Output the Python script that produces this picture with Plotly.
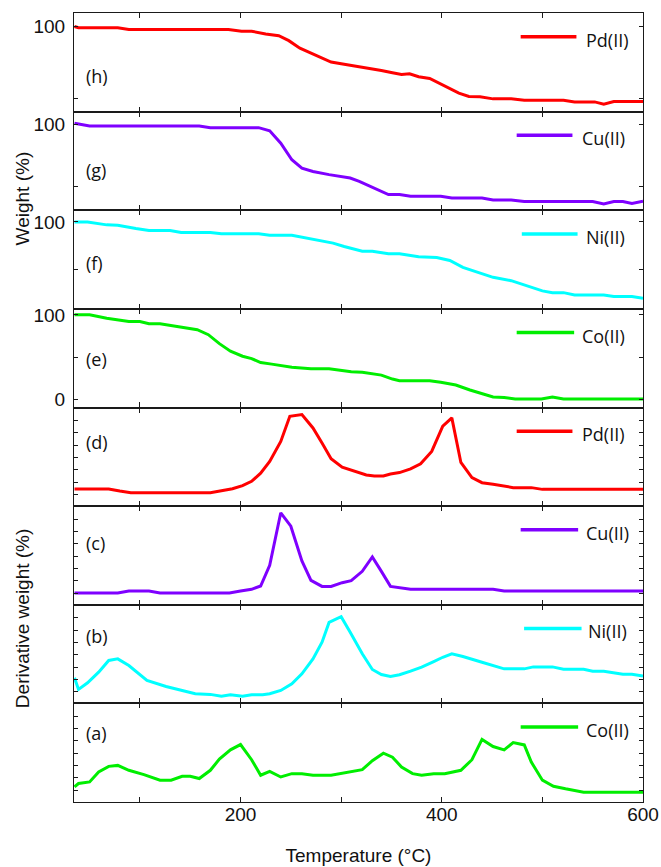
import plotly.graph_objects as go

# ---------------- TGA curves: weight (%) vs temperature (°C) ----------------
temp_pd_tga = [35, 39, 78, 89, 188, 201, 211, 225, 238, 248, 259, 270, 281, 290, 303, 314, 325, 340, 351, 360,
               368, 377, 388, 395, 406, 417, 427, 438, 451, 469, 482, 521, 532, 552, 561, 571, 600]
weight_pd = [100, 99.1, 99.1, 97.9, 97.9, 96.7, 96.7, 94.8, 93.6, 90.1, 84.9, 81.4, 77.6, 75.2, 73.6, 72.4, 70.8,
             69.3, 67.7, 66.5, 67.0, 64.9, 63.7, 61.3, 57.1, 53.5, 51.2, 51.0, 49.5, 49.5, 48.6, 48.6, 47.4, 47.4,
             45.8, 47.7, 47.7]

temp_cu_tga = [35, 50, 159, 170, 218, 229, 240, 251, 261, 272, 288, 309, 318, 333, 347, 358, 369, 399, 410, 440,
               451, 469, 482, 550, 561, 571, 580, 589, 600]
weight_cu = [100.8, 98.7, 98.7, 97.3, 97.3, 94.7, 84.8, 71.4, 64.7, 62.0, 59.4, 56.7, 54.0, 48.7, 43.3, 43.3, 42.0,
             42.0, 40.6, 40.6, 39.0, 39.0, 37.7, 37.7, 35.8, 37.7, 37.7, 36.1, 37.9]

temp_ni_tga = [35, 48, 67, 78, 96, 109, 130, 141, 170, 181, 218, 229, 251, 266, 281, 292, 303, 312, 321, 331, 347,
               358, 377, 395, 408, 421, 436, 451, 469, 480, 491, 500, 510, 521, 532, 561, 571, 589, 600]
weight_ni = [100, 100, 96.9, 96.5, 93.1, 91.0, 91.0, 88.9, 88.9, 87.5, 87.5, 86.1, 86.1, 83.3, 80.2, 77.8, 74.3,
             72.2, 69.4, 69.4, 66.7, 66.7, 63.5, 62.8, 59.7, 52.4, 47.2, 42.0, 38.5, 34.7, 30.6, 27.8, 26.0, 26.0,
             23.6, 23.6, 21.9, 21.9, 20.1]

temp_co_tga = [35, 50, 67, 78, 89, 100, 109, 120, 131, 144, 157, 168, 179, 190, 202, 211, 220, 231, 251, 270, 288,
               310, 321, 340, 351, 358, 388, 399, 414, 428, 440, 451, 462, 473, 499, 510, 521, 600]
weight_co = [100, 100, 96.1, 94.1, 92.2, 92.2, 89.4, 89.4, 87.4, 84.7, 82.4, 76.5, 65.9, 56.9, 51.0, 48.2, 43.5,
             41.6, 38.0, 36.1, 36.1, 32.5, 32.1, 28.6, 23.9, 22.0, 22.0, 20.0, 16.9, 11.0, 6.7, 2.7, 2.0, 0.4, 0.4,
             2.7, 0.4, 0.4]

# ---------------- DTG curves: derivative weight (arbitrary units) ----------------
temp_pd_dtg = [35, 69, 80, 91, 170, 181, 192, 202, 211, 220, 229, 240, 249, 261, 272, 281, 290, 301, 314, 325, 333,
               342, 349, 358, 369, 379, 390, 401, 410, 419, 430, 440, 451, 471, 489, 500, 600]
deriv_pd = [1.39, 1.39, 1.22, 1.09, 1.09, 1.22, 1.41, 1.66, 2.01, 2.67, 3.62, 5.25, 7.29, 7.43, 6.34, 5.12, 3.84,
            3.16, 2.80, 2.53, 2.45, 2.45, 2.61, 2.72, 3.02, 3.43, 4.44, 6.48, 7.16, 3.54, 2.31, 1.90, 1.77, 1.50,
            1.50, 1.36, 1.36]

temp_cu_dtg = [35, 78, 89, 109, 120, 189, 200, 211, 220, 229, 240, 250, 261, 270, 281, 290, 301, 310, 321, 331, 340,
               349, 369, 451, 462, 600]
deriv_cu = [0.95, 0.95, 1.11, 1.11, 0.95, 0.95, 1.11, 1.25, 1.52, 3.20, 7.46, 6.37, 3.55, 1.98, 1.49, 1.49, 1.79,
            1.95, 2.71, 3.88, 2.71, 1.49, 1.25, 1.25, 1.11, 1.11]

temp_ni_dtg = [35, 39, 48, 59, 69, 78, 89, 107, 126, 141, 155, 170, 181, 190, 202, 211, 222, 229, 240, 251, 261,
               272, 281, 288, 300, 309, 321, 331, 340, 349, 358, 369, 380, 392, 401, 410, 421, 440, 462, 482, 491,
               510, 521, 541, 550, 561, 580, 589, 600]
deriv_ni = [2.07, 1.13, 1.67, 2.53, 3.48, 3.61, 3.07, 1.86, 1.37, 1.05, 0.78, 0.73, 0.57, 0.70, 0.57, 0.70, 0.70,
            0.78, 1.05, 1.59, 2.40, 3.61, 4.96, 6.57, 7.03, 5.77, 4.02, 2.75, 2.34, 2.18, 2.32, 2.61, 2.94, 3.39,
            3.74, 4.02, 3.80, 3.34, 2.80, 2.80, 2.96, 2.96, 2.77, 2.77, 2.61, 2.61, 2.37, 2.37, 2.21]

temp_co_dtg = [35, 39, 50, 59, 69, 78, 89, 104, 120, 131, 142, 150, 159, 170, 179, 190, 200, 211, 220, 229, 240,
               251, 261, 272, 290, 310, 321, 331, 342, 351, 360, 371, 380, 392, 403, 419, 430, 440, 451, 462, 471,
               482, 489, 500, 511, 523, 541, 600]
deriv_co = [1.23, 1.50, 1.63, 2.44, 2.89, 2.97, 2.57, 2.22, 1.77, 1.77, 2.09, 2.09, 1.90, 2.57, 3.48, 4.23, 4.66,
            3.43, 2.17, 2.49, 2.03, 2.30, 2.30, 2.17, 2.17, 2.49, 2.62, 3.35, 3.96, 3.64, 2.84, 2.30, 2.17, 2.30,
            2.30, 2.57, 3.43, 5.08, 4.50, 4.23, 4.82, 4.63, 3.24, 1.77, 1.28, 1.07, 0.80, 0.80]

x_tick_vals = [100, 200, 300, 400, 500, 600]
x_tick_text = ["", "200", "", "400", "", "600"]

RED = "#FF0000"
PURPLE = "#7F00FF"
CYAN = "#00FFFF"
GREEN = "#00EE00"

TICK_FONT = dict(family="Liberation Sans, Arial, sans-serif", size=19, color="#111111")
LABEL_FONT = dict(family="Open Sans, sans-serif", size=18, color="#111111")
AXIS_COLOR = "#1a1a1a"

# panels listed from bottom (1) to top (8):
# (tag, x, y, name, colour, y-range, kind, legend line x0, x1, legend text x, tag y)
panels = [
    ("(a)", temp_co_dtg, deriv_co, "Co(II)", GREEN, [0, 8], "dtg", 0.785, 0.886, 0.897, 0.70),
    ("(b)", temp_ni_dtg, deriv_ni, "Ni(II)", CYAN, [0, 8], "dtg", 0.791, 0.892, 0.900, 0.68),
    ("(c)", temp_cu_dtg, deriv_cu, "Cu(II)", PURPLE, [0, 8], "dtg", 0.785, 0.886, 0.897, 0.63),
    ("(d)", temp_pd_dtg, deriv_pd, "Pd(II)", RED, [0, 8], "dtg", 0.778, 0.876, 0.890, 0.65),
    ("(e)", temp_co_tga, weight_co, "Co(II)", GREEN, [-9.8, 107.1], "tga", 0.778, 0.879, 0.890, 0.49),
    ("(f)", temp_ni_tga, weight_ni, "Ni(II)", CYAN, [9.0, 112.2], "tga", 0.787, 0.885, 0.897, 0.47),
    ("(g)", temp_cu_tga, weight_cu, "Cu(II)", PURPLE, [30.7, 110.2], "tga", 0.778, 0.876, 0.890, 0.41),
    ("(h)", temp_pd_tga, weight_pd, "Pd(II)", RED, [40.6, 109.4], "tga", 0.785, 0.883, 0.897, 0.36),
]

fig = go.Figure()
n = len(panels)
annotations = []
shapes = []
layout = {}

for k, (tag, xs, ys, name, color, yr, kind, lx0, lx1, tx, tag_y) in enumerate(panels, start=1):
    sfx = "" if k == 1 else str(k)
    fig.add_trace(go.Scatter(x=xs, y=ys, mode="lines", name=name,
                             line=dict(color=color, width=3),
                             xaxis="x" + sfx, yaxis="y" + sfx, showlegend=False))

    layout["xaxis" + sfx] = dict(
        domain=[0, 1], anchor="y" + sfx, range=[34.5, 600],
        showline=True, linecolor=AXIS_COLOR, linewidth=1.1, mirror="allticks",
        ticks="inside", ticklen=5, tickwidth=1.2, tickcolor=AXIS_COLOR,
        tickvals=x_tick_vals, ticktext=x_tick_text,
        showticklabels=(k == 1), tickfont=TICK_FONT, ticklabelstandoff=-5,
        showgrid=False, zeroline=False, automargin=False,
        matches=None if k == 1 else "x",
    )
    if k == 1:
        layout["xaxis"]["title"] = dict(text="Temperature (°C)", font=TICK_FONT, standoff=24)

    ycfg = dict(
        domain=[(k - 1) / n, k / n], anchor="x" + sfx, range=yr,
        showline=True, linecolor=AXIS_COLOR, linewidth=1.1, mirror="allticks",
        ticks="inside", ticklen=4, tickwidth=1.2, tickcolor=AXIS_COLOR,
        showgrid=False, zeroline=False, tickfont=TICK_FONT, automargin=False,
    )
    if kind == "tga":
        ycfg.update(tickvals=[0, 50, 100], ticktext=["0", "", "100"], showticklabels=True,
                    ticklabelstandoff=4)
    else:
        ycfg.update(tick0=0.95, dtick=1, showticklabels=False)
    layout["yaxis" + sfx] = ycfg

    xd = "x" + sfx + " domain"
    yd = "y" + sfx + " domain"
    # panel tag
    annotations.append(dict(text=tag, xref=xd, yref=yd, x=0.017, y=tag_y, xanchor="left",
                            yanchor="middle", showarrow=False, font=LABEL_FONT))
    # legend key line and text
    shapes.append(dict(type="line", xref=xd, yref=yd, x0=lx0, x1=lx1, y0=0.76, y1=0.76,
                       line=dict(color=color, width=3.5)))
    annotations.append(dict(text=name, xref=xd, yref=yd, x=tx, y=0.76, yshift=-3, xanchor="left",
                            yanchor="middle", showarrow=False, font=LABEL_FONT))

# y-axis titles spanning the two groups of panels
annotations.append(dict(text="Weight (%)", xref="paper", yref="paper", x=-0.0914, y=0.765,
                        textangle=-90, showarrow=False, font=TICK_FONT, xanchor="center", yanchor="middle"))
annotations.append(dict(text="Derivative weight (%)", xref="paper", yref="paper", x=-0.0914, y=0.233,
                        textangle=-90, showarrow=False, font=TICK_FONT, xanchor="center", yanchor="middle"))

fig.update_layout(
    width=661, height=867,
    margin=dict(l=74, r=18, t=13, b=65, autoexpand=False),
    paper_bgcolor="white", plot_bgcolor="white",
    showlegend=False,
    annotations=annotations, shapes=shapes,
    **layout,
)

fig.write_html("out.html")
